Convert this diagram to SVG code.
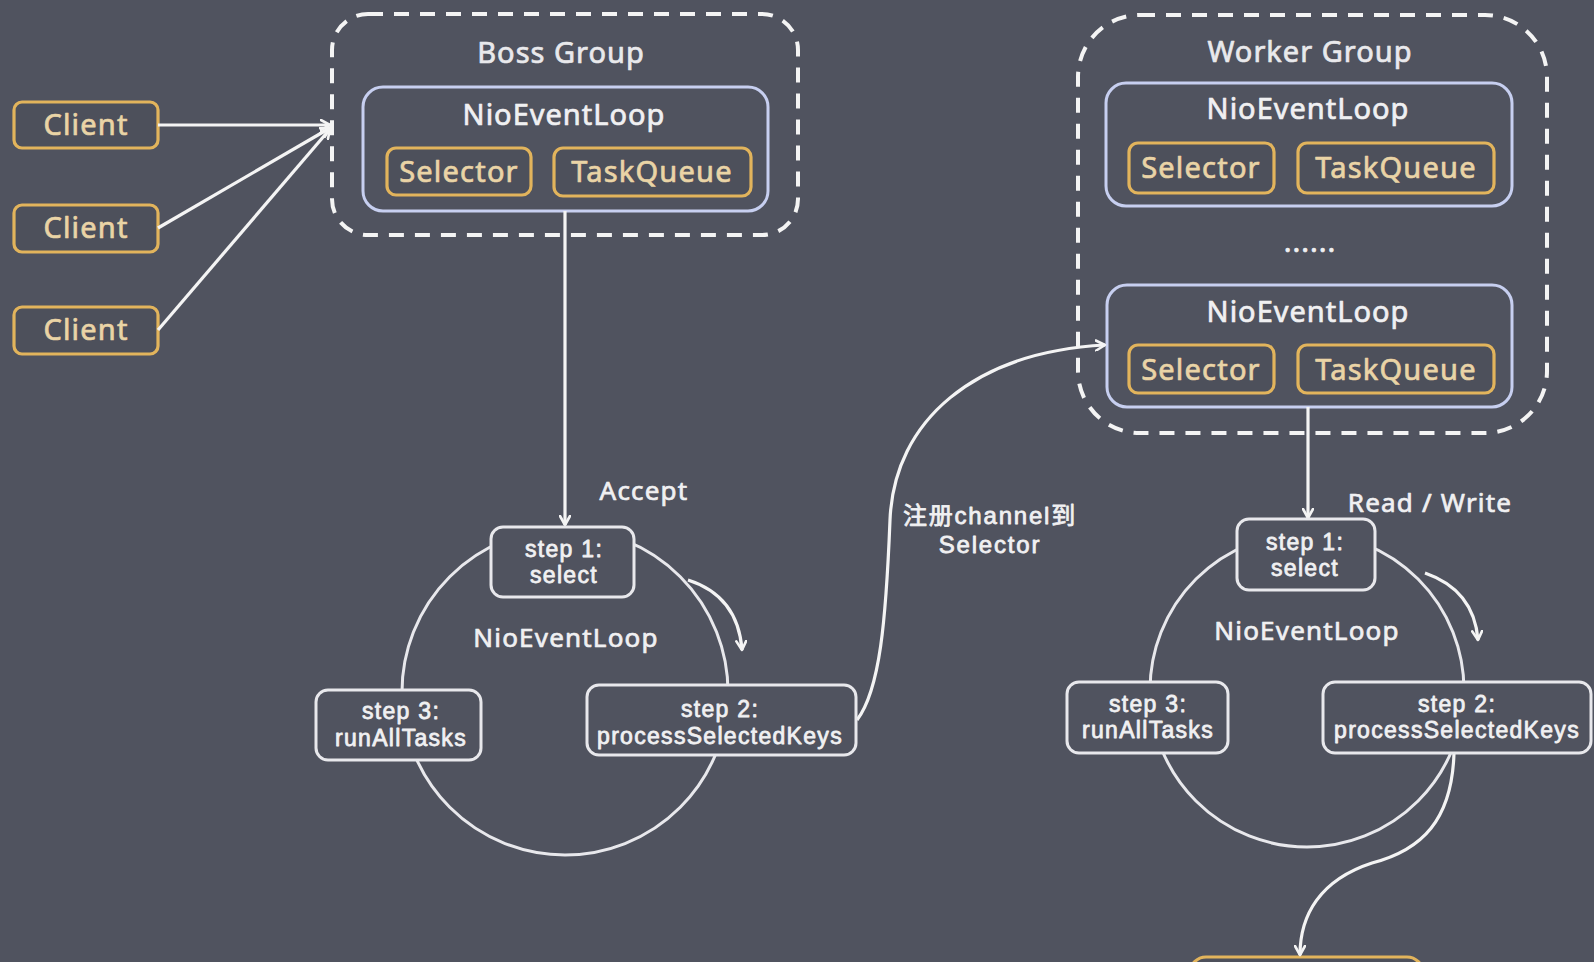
<svg xmlns="http://www.w3.org/2000/svg" width="1594" height="962" viewBox="0 0 1594 962">
<defs>
<marker id="arr" viewBox="0 0 12 12" refX="10" refY="6" markerWidth="12" markerHeight="12" markerUnits="userSpaceOnUse" orient="auto">
<path d="M1,1 L10,6 L1,11" fill="none" stroke="#f4f4f4" stroke-width="2.6" stroke-linecap="round" stroke-linejoin="round"/>
</marker>
<style>
text{font-family:"Noto Sans","Noto Sans CJK SC",sans-serif;text-anchor:middle;stroke-width:0.7px;stroke-linejoin:round}
.grp{fill:none;stroke:#f4f4f4;stroke-width:4;stroke-dasharray:15 11}
.gt{fill:#e9e9ec;stroke:#e9e9ec;font-size:29px;letter-spacing:1px}
.loop{fill:#50535f;stroke:#c7cff0;stroke-width:3}
.lt{fill:#f0f0f2;stroke:#f0f0f2;font-size:29px;letter-spacing:1px}
.ob{fill:#4d505b;stroke:#e2b45c;stroke-width:3.2}
.ot{fill:#ead4a6;stroke:#ead4a6;font-size:29px;letter-spacing:1.2px}
.st{fill:#50535f;stroke:#e8e8ec;stroke-width:3}
.stt{font-family:"Liberation Sans",Arial,sans-serif;fill:#f0f0f2;stroke:#f0f0f2;font-size:23px;letter-spacing:1.3px;stroke-width:0.8px}
.ring{fill:none;stroke:#e8e8ec;stroke-width:3}
.lbl{fill:#f0f0f2;stroke:#f0f0f2;font-size:26px;letter-spacing:1.2px}
.cjk{font-family:"Liberation Sans","Noto Sans CJK SC",sans-serif;fill:#f0f0f2;stroke:#f0f0f2;font-size:24px;letter-spacing:1.8px;stroke-width:0.8px}
.c{fill:none;stroke:#f4f4f4;stroke-width:3.2;marker-end:url(#arr)}
</style>
</defs>
<rect width="1594" height="962" fill="#50535f"/>

<g id="boss-group">
<rect class="grp" x="332" y="14" width="466" height="221" rx="36"/>
<text class="gt" x="561" y="63">Boss Group</text>
</g>
<g id="boss-loop">
<rect class="loop" x="363" y="87" width="405" height="124" rx="20"/>
<text class="lt" x="564" y="125">NioEventLoop</text>
</g>
<g id="boss-selector">
<rect class="ob" x="387" y="148" width="144" height="47" rx="9"/>
<text class="ot" x="459" y="182">Selector</text>
</g>
<g id="boss-taskqueue">
<rect class="ob" x="554" y="148" width="197" height="48" rx="9"/>
<text class="ot" x="652" y="182">TaskQueue</text>
</g>

<g id="worker-group">
<rect class="grp" x="1078" y="15" width="469" height="418" rx="62"/>
<text class="gt" x="1310" y="62">Worker Group</text>
<text class="lt" x="1310" y="252">......</text>
</g>
<g id="worker-loop-1">
<rect class="loop" x="1106" y="83" width="406" height="123" rx="20"/>
<text class="lt" x="1308" y="119">NioEventLoop</text>
</g>
<g id="worker-selector-1">
<rect class="ob" x="1129" y="143" width="145" height="50" rx="9"/>
<text class="ot" x="1201" y="178">Selector</text>
</g>
<g id="worker-taskqueue-1">
<rect class="ob" x="1298" y="143" width="196" height="50" rx="9"/>
<text class="ot" x="1396" y="178">TaskQueue</text>
</g>
<g id="worker-loop-2">
<rect class="loop" x="1107" y="285" width="405" height="122" rx="20"/>
<text class="lt" x="1308" y="322">NioEventLoop</text>
</g>
<g id="worker-selector-2">
<rect class="ob" x="1129" y="345" width="145" height="48" rx="9"/>
<text class="ot" x="1201" y="380">Selector</text>
</g>
<g id="worker-taskqueue-2">
<rect class="ob" x="1298" y="345" width="196" height="48" rx="9"/>
<text class="ot" x="1396" y="380">TaskQueue</text>
</g>

<g id="client-1">
<rect class="ob" x="14" y="102" width="144" height="46" rx="8"/>
<text class="ot" x="86" y="135">Client</text>
</g>
<g id="client-2">
<rect class="ob" x="14" y="205" width="144" height="47" rx="8"/>
<text class="ot" x="86" y="238">Client</text>
</g>
<g id="client-3">
<rect class="ob" x="14" y="307" width="144" height="47" rx="8"/>
<text class="ot" x="86" y="340">Client</text>
</g>

<g id="boss-ring">
<circle class="ring" cx="565" cy="692" r="163"/>
<text class="lbl" x="566" y="647">NioEventLoop</text>
</g>
<g id="worker-ring">
<circle class="ring" cx="1307" cy="690" r="157"/>
<text class="lbl" x="1307" y="640">NioEventLoop</text>
</g>

<g id="bottom-box">
<rect class="ob" x="1190" y="957" width="233" height="60" rx="16"/>
</g>

<g id="connectors">
<path class="c" d="M158,125 L330,125"/>
<path class="c" d="M158,228 L330,128"/>
<path class="c" d="M158,330 L330,129"/>
<path class="c" d="M565,211 L565,525"/>
<path class="c" d="M688,580 Q738,596 742,650"/>
<path class="c" d="M857,720 C880,690 886,620 890,520 C894,420 975,352 1105,345"/>
<path class="c" d="M1308,407 L1308,518"/>
<path class="c" d="M1425,573 Q1474,590 1478,640"/>
<path class="c" d="M1454,753 C1452,820 1422,850 1372,863 C1320,880 1300,915 1300,955"/>
</g>

<g id="boss-step1">
<rect class="st" x="491" y="527" width="143" height="70" rx="12"/>
<text class="stt" x="564" y="557">step 1:<tspan x="564" dy="26">select</tspan></text>
</g>
<g id="boss-step3">
<rect class="st" x="316" y="690" width="165" height="70" rx="12"/>
<text class="stt" x="401" y="719">step 3:<tspan x="401" dy="27">runAllTasks</tspan></text>
</g>
<g id="boss-step2">
<rect class="st" x="587" y="685" width="269" height="70" rx="12"/>
<text class="stt" x="720" y="717">step 2:<tspan x="720" dy="27">processSelectedKeys</tspan></text>
</g>
<g id="worker-step1">
<rect class="st" x="1237" y="519" width="138" height="71" rx="12"/>
<text class="stt" x="1305" y="550">step 1:<tspan x="1305" dy="26">select</tspan></text>
</g>
<g id="worker-step3">
<rect class="st" x="1067" y="682" width="161" height="71" rx="12"/>
<text class="stt" x="1148" y="712">step 3:<tspan x="1148" dy="26">runAllTasks</tspan></text>
</g>
<g id="worker-step2">
<rect class="st" x="1323" y="682" width="268" height="71" rx="12"/>
<text class="stt" x="1457" y="712">step 2:<tspan x="1457" dy="26">processSelectedKeys</tspan></text>
</g>

<g id="labels">
<text class="lbl" x="644" y="500">Accept</text>
<text class="cjk" x="990" y="524">注册channel到<tspan x="990" dy="29">Selector</tspan></text>
<text class="lbl" x="1430" y="512">Read / Write</text>
</g>
</svg>
